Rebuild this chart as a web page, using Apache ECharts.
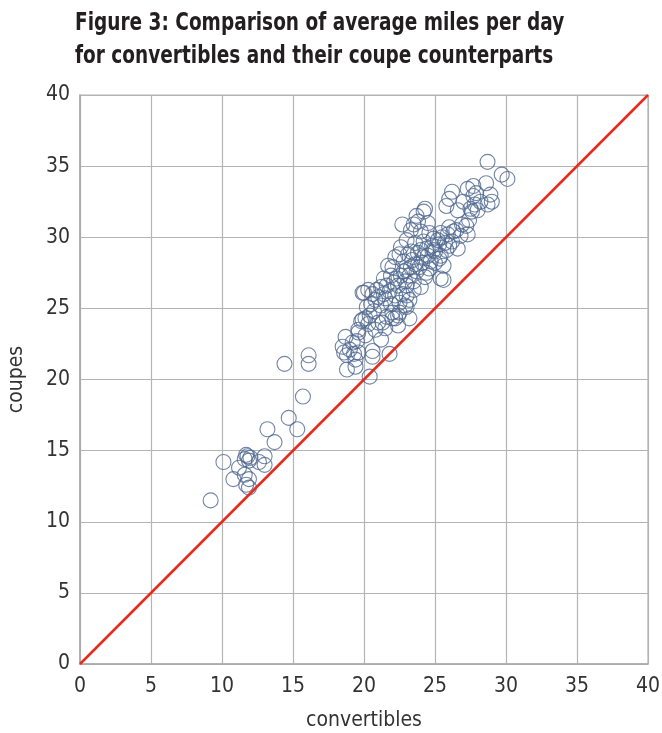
<!DOCTYPE html>
<html><head><meta charset="utf-8">
<script src="https://cdn.jsdelivr.net/npm/echarts@6/dist/echarts.min.js"></script>
<style>html,body{margin:0;padding:0;background:#fff}#c{width:662px;height:733px}</style>
</head><body><div id="c"></div>
<script>
const titleLines = ["Figure 3: Comparison of average miles per day", "for convertibles and their coupe counterparts"];
const xName = "convertibles";
const yName = "coupes";
const axisTicks = [0,5,10,15,20,25,30,35,40];
const refLine = [[0,0],[40,40]];
// convertibles (x) and coupes (y) average miles per day
const lowGroup = [
 [9.2,11.5],[10.1,14.2],[10.8,13.0],[11.2,13.8],[11.6,14.4],[11.8,14.6],[11.9,14.3],[12.0,14.5],[11.7,14.7],
 [11.7,12.6],[11.9,12.4],[11.9,13.0],[11.6,13.3],[12.6,14.2],[13.0,14.0],[13.0,14.6],[13.2,16.5],[13.7,15.6],
 [14.4,21.1],[14.7,17.3],[15.3,16.5],[15.7,18.8],[16.1,21.7],[16.1,21.1]
];
const midGroup = [
 [18.5,22.3],[18.6,21.9],[18.8,21.7],[19.0,22.1],[19.3,21.8],[19.4,21.4],[19.6,21.9],[18.8,20.7],[19.4,20.9],
 [20.4,20.2],[20.6,21.6],[20.6,22.0],[21.8,21.8],[19.2,22.6],[19.6,23.3],[18.7,23.0],[20.1,23.1],[19.5,22.7]
];
const mainBand = [
 [19.6,23.5],[19.9,24.2],[20.3,23.9],[20.8,23.5],[21.3,24.0],[22.0,24.3],[22.4,24.5],[22.4,23.8],[23.2,24.3],
 [22.2,24.3],[22.5,24.7],[22.9,25.2],[23.0,25.9],[23.5,26.3],
 [19.8,24.1],[20.1,24.3],[20.4,24.5],[20.7,24.8],[20.2,25.1],[20.5,25.3],[21.0,24.0],[21.5,23.6],[21.2,22.8],
 [21.2,25.2],[20.8,25.6],[20.6,26.0],[20.3,26.3],[20.0,26.1],[19.9,26.1],[21.5,25.7],[21.9,25.3],[22.0,24.7],[21.6,24.4],
 [21.8,26.2],[21.4,27.1],[21.2,26.5],[20.9,26.3],[22.2,25.9],[22.5,25.4],[23.0,25.1],[23.2,25.6],[22.7,26.0],
 [22.4,26.6],[23.0,26.6],[21.9,27.3],[22.0,27.9],[21.7,28.0],[22.6,27.3],[23.5,26.9],[24.0,26.5],[24.3,27.2],
 [23.7,27.6],[23.0,27.7],[23.2,27.3],[22.9,26.9],[24.4,27.5],[23.9,27.9],[24.6,27.8],[24.1,28.2],[23.4,28.4],
 [22.8,28.3],[22.2,28.6],[22.5,28.8],[23.1,28.8],[23.8,28.9],[24.4,29.2],[24.7,28.3],[25.3,28.5],[25.0,28.2],
 [25.6,28.0],[25.4,27.1],[25.6,27.0],[24.5,28.7],[24.0,29.1],[23.3,29.0],[22.6,29.3],[23.0,29.8],[23.6,29.6],
 [24.2,29.7],[24.8,29.4],[25.2,29.8],[24.9,29.9],[25.5,30.0],[25.9,30.2],[26.3,30.4],[25.7,29.6],[26.0,29.4],
 [23.3,30.5],[24.0,30.4],[24.6,30.3],[22.7,30.9],[23.5,30.9],[23.8,31.1],[24.5,31.0],[23.7,31.5],[24.2,31.8],[24.3,32.0],
 [21.4,26.0],[21.0,25.8],[22.1,26.8],[22.8,27.6],[23.6,28.1],[24.2,28.6],[24.9,29.1],[21.6,26.6],[22.3,27.1],[23.3,27.9]
];
const highGroup = [
 [28.7,35.3],[29.7,34.4],[30.1,34.1],[28.6,33.8],[27.3,33.4],[27.7,33.6],[27.9,33.1],[26.2,33.2],[26.0,32.7],
 [25.8,32.2],[27.0,32.5],[27.5,32.0],[27.8,32.3],[28.2,32.5],[28.7,32.3],[29.0,32.5],[28.9,33.0],[27.6,31.8],
 [28.0,31.9],[26.6,31.9],[26.9,30.9],[27.4,31.2],[26.5,30.5],[27.3,30.2],[26.0,30.7],[25.4,30.3],[26.2,29.7],
 [25.8,29.1],[26.6,29.2],[25.4,28.7],[25.3,29.5],[25.0,29.0],[27.2,30.8],[26.8,30.1],[27.7,32.9]
];
const points = [].concat(lowGroup, midGroup, mainBand, highGroup);

const chart = echarts.init(document.getElementById('c'), null, {renderer:'canvas'});
const axisFont = "'DejaVu Sans Condensed','Liberation Sans Narrow',sans-serif";
const gridColor = '#b4b4b4';
const axisCommon = {
  type:'value', min:axisTicks[0], max:axisTicks[axisTicks.length-1], interval:axisTicks[1]-axisTicks[0],
  axisLine:{show:true, lineStyle:{color:'#a8a8a8', width:1.5}},
  axisTick:{show:false},
  splitLine:{show:true, lineStyle:{color:gridColor, width:1.2}},
  axisLabel:{color:'#333', fontSize:21, fontFamily:axisFont},
  nameTextStyle:{color:'#333', fontSize:21, fontFamily:axisFont}
};
const titleStyle = {fill:'#231f20', font:"bold 24.5px 'DejaVu Sans Condensed', sans-serif", verticalAlign:'middle', align:'left'};
chart.setOption({
  animation:false,
  graphic:[
    {type:'text', x:75, y:24, scaleX:0.84, style:Object.assign({text:titleLines[0]}, titleStyle)},
    {type:'text', x:75, y:57, scaleX:0.84, style:Object.assign({text:titleLines[1]}, titleStyle)}
  ],
  grid:{left:80, right:14, top:95, bottom:69, show:true, borderColor:gridColor, borderWidth:1.2, outerBoundsMode:'none', containLabel:false},
  xAxis: Object.assign({}, axisCommon, {name:xName, nameLocation:'middle', nameGap:46,
     axisLabel:Object.assign({}, axisCommon.axisLabel, {margin:12})}),
  yAxis: Object.assign({}, axisCommon, {name:yName, nameLocation:'middle', nameGap:53,
     axisLabel:Object.assign({}, axisCommon.axisLabel, {margin:10})}),
  series:[
    {type:'scatter', data:points, symbol:'circle', symbolSize:15,
     itemStyle:{color:'rgba(255,255,255,0)', borderColor:'#4f6890', borderWidth:1.1}, z:2},
    {type:'line', data:refLine, symbol:'none', lineStyle:{color:'#e8291c', width:2.5}, z:3, silent:true}
  ]
});
</script></body></html>
